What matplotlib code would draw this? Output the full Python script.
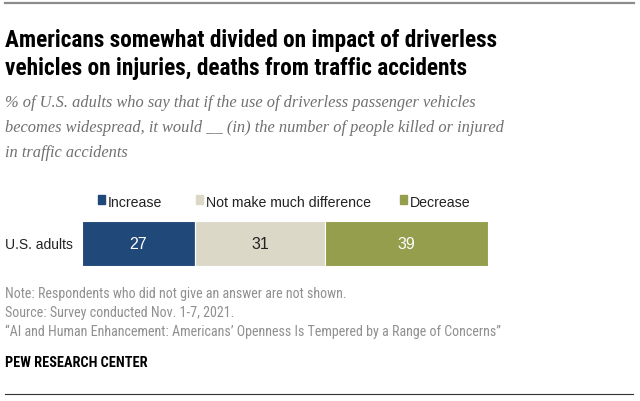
#!/usr/bin/env python3
import matplotlib
matplotlib.use("Agg")
import matplotlib.pyplot as plt
from matplotlib import font_manager as fm
from matplotlib.lines import Line2D
from matplotlib.patches import Rectangle

# Data
group = "U.S. adults"
categories = ["Increase", "Not make much difference", "Decrease"]
values = [27, 31, 39]
colors = ["#204878", "#dcd8c8", "#949e4c"]
label_colors = ["white", "#222222", "white"]

W, H = 640, 402
SANS = ["Liberation Sans", "DejaVu Sans"]
SERIF = ["Liberation Serif", "DejaVu Serif"]


def narrow_font(bold):
    # look for a condensed / narrow sans face among installed fonts
    prefs = ["Liberation Sans Narrow", "DejaVu Sans Condensed", "Roboto Condensed",
             "Noto Sans", "Open Sans", "DejaVu Sans"]
    cands = []
    for f in fm.fontManager.ttflist:
        narrow = (f.stretch in ("condensed", "semi-condensed", "extra-condensed")
                  or "Narrow" in f.name or "Condensed" in f.name
                  or "Condensed" in f.fname or "Narrow" in f.fname)
        w = f.weight if isinstance(f.weight, int) else (700 if "bold" in str(f.weight) else 400)
        if not narrow or f.style != "normal":
            continue
        if bold and w < 600:
            continue
        if not bold and w not in (400, "normal", "regular"):
            continue
        rank = next((i for i, p in enumerate(prefs) if f.name.startswith(p)), len(prefs))
        cands.append((rank, f.fname))
    if cands:
        cands.sort()
        return fm.FontProperties(fname=cands[0][1])
    return fm.FontProperties(family="DejaVu Sans", weight="bold" if bold else "normal")


NARROW_B = narrow_font(True)
NARROW_R = narrow_font(False)


def fx(x):
    return x / W


def fy(y):
    return 1 - y / H


fig = plt.figure(figsize=(6.4, 4.02), dpi=100)
renderer = fig.canvas.get_renderer()


def fit_text(x, y, s, width, size, **kw):
    # place text and scale its font size so it spans `width` pixels
    t = fig.text(fx(x), fy(y), s, va="baseline", fontsize=size, **kw)
    w = t.get_window_extent(renderer).width
    t.set_fontsize(size * width / w)
    return t


# top / bottom rules
fig.add_artist(Line2D([fx(5), fx(634)], [fy(4), fy(4)], color="#8c8c8c", lw=1.6))
fig.add_artist(Line2D([fx(5), fx(633)], [fy(395), fy(395)], color="#333333", lw=0.8))

# title
fit_text(5, 47, "Americans somewhat divided on impact of driverless", 493, 16,
         fontproperties=NARROW_B, color="black")
fit_text(5, 75, "vehicles on injuries, deaths from traffic accidents", 463, 16,
         fontproperties=NARROW_B, color="black")

# subtitle
subtitle = ["% of U.S. adults who say that if the use of driverless passenger vehicles",
            "becomes widespread, it would __ (in) the number of people killed or injured",
            "in traffic accidents"]
for i, line in enumerate(subtitle):
    fig.text(fx(5), fy(107 + i * 25), line, family=SERIF, style="italic",
             fontsize=11.8, color="#707070", va="baseline")

# bar
ax = fig.add_axes([fx(82), fy(267), fx(488) - fx(82), (267 - 222) / H])
left = 0
for v, c, lc in zip(values, colors, label_colors):
    ax.barh(0, v, left=left, height=1, color=c, edgecolor="white", linewidth=0.8)
    ax.text(left + v / 2, 0, str(v), ha="center", va="center",
            fontsize=11.5, color=lc, family=SANS)
    left += v
ax.set_xlim(0, sum(values))
ax.set_ylim(-0.5, 0.5)
ax.axis("off")

fig.text(fx(73), fy(245), group, ha="right", va="center", fontsize=10,
         family=SANS, color="#222222")

# legend
legend_x = [98, 196, 400]
for x, cat, c in zip(legend_x, categories, colors):
    fig.add_artist(Rectangle((fx(x), fy(205)), 7 / W, 9 / H, color=c,
                             transform=fig.transFigure))
    fig.text(fx(x + 9.5), fy(207), cat, fontsize=10.2, family=SANS,
             color="#222222", va="baseline")

# notes
notes = ["Note: Respondents who did not give an answer are not shown.",
         "Source: Survey conducted Nov. 1-7, 2021.",
         "\u201cAI and Human Enhancement: Americans\u2019 Openness Is Tempered by a Range of Concerns\u201d"]
t = fit_text(5, 336, notes[2], 495, 9.5, fontproperties=NARROW_R, color="#909090")
note_size = t.get_fontsize()
for i, line in enumerate(notes[:2]):
    fig.text(fx(5), fy(298 + i * 19), line, fontproperties=NARROW_R,
             fontsize=note_size, color="#909090", va="baseline")

fit_text(5, 367, "PEW RESEARCH CENTER", 141, 10, fontproperties=NARROW_B,
         color="black")

fig.savefig("out.png", dpi=100)
